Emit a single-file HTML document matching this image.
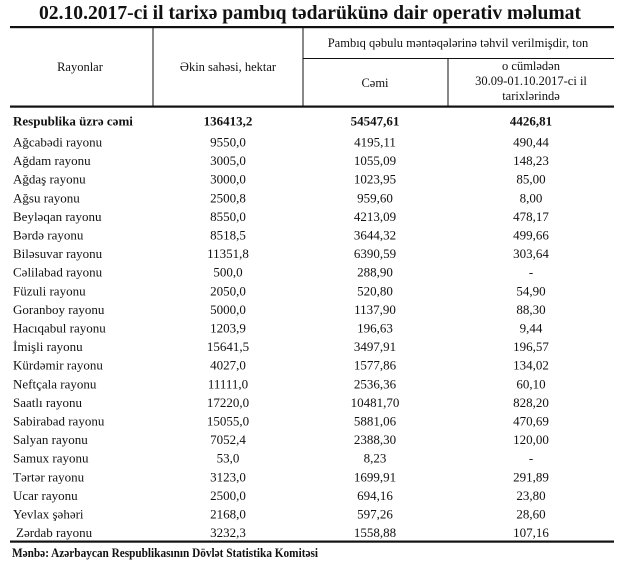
<!DOCTYPE html>
<html><head><meta charset="utf-8"><style>
html,body{margin:0;padding:0;background:#fff;}
svg{display:block;}
text{font-family:"Liberation Serif",serif;fill:#111;}
</style></head><body>
<svg width="620" height="564" viewBox="0 0 620 564" xmlns="http://www.w3.org/2000/svg">
<text x="310" y="19" font-size="19.5" font-weight="bold" text-anchor="middle" textLength="542" lengthAdjust="spacingAndGlyphs">02.10.2017-ci il tarixə pambıq tədarükünə dair operativ məlumat</text>
<rect x="10" y="26" width="604" height="2.2" fill="#111"/>
<rect x="10" y="105.5" width="604" height="2.2" fill="#111"/>
<rect x="10" y="540.5" width="604" height="2.2" fill="#111"/>
<line x1="153" y1="27" x2="153" y2="106" stroke="#111" stroke-width="1"/>
<line x1="303" y1="27" x2="303" y2="106" stroke="#111" stroke-width="1"/>
<line x1="448" y1="58.5" x2="448" y2="106" stroke="#111" stroke-width="1"/>
<line x1="303" y1="58.5" x2="614" y2="58.5" stroke="#111" stroke-width="1"/>
<g font-size="12.5" text-anchor="middle">
<text x="80" y="71">Rayonlar</text>
<text x="228" y="71">Əkin sahəsi, hektar</text>
<text x="458" y="47">Pambıq qəbulu məntəqələrinə təhvil verilmişdir, ton</text>
<text x="375" y="87">Cəmi</text>
<text x="531" y="70">o cümlədən</text>
<text x="531" y="85">30.09-01.10.2017-ci il</text>
<text x="531" y="100">tarixlərində</text>
</g>
<g font-size="13" font-weight="bold">
<text x="13" y="125.5">Respublika üzrə cəmi</text>
<text x="228" y="125.5" text-anchor="middle">136413,2</text>
<text x="375" y="125.5" text-anchor="middle">54547,61</text>
<text x="531" y="125.5" text-anchor="middle">4426,81</text>
</g>
<g font-size="13">
<text x="13" y="146.5">Ağcabədi rayonu</text><text x="228" y="146.5" text-anchor="middle">9550,0</text><text x="375" y="146.5" text-anchor="middle">4195,11</text><text x="531" y="146.5" text-anchor="middle">490,44</text>
<text x="13" y="165.1">Ağdam rayonu</text><text x="228" y="165.1" text-anchor="middle">3005,0</text><text x="375" y="165.1" text-anchor="middle">1055,09</text><text x="531" y="165.1" text-anchor="middle">148,23</text>
<text x="13" y="183.7">Ağdaş rayonu</text><text x="228" y="183.7" text-anchor="middle">3000,0</text><text x="375" y="183.7" text-anchor="middle">1023,95</text><text x="531" y="183.7" text-anchor="middle">85,00</text>
<text x="13" y="202.3">Ağsu rayonu</text><text x="228" y="202.3" text-anchor="middle">2500,8</text><text x="375" y="202.3" text-anchor="middle">959,60</text><text x="531" y="202.3" text-anchor="middle">8,00</text>
<text x="13" y="220.9">Beyləqan rayonu</text><text x="228" y="220.9" text-anchor="middle">8550,0</text><text x="375" y="220.9" text-anchor="middle">4213,09</text><text x="531" y="220.9" text-anchor="middle">478,17</text>
<text x="13" y="239.5">Bərdə rayonu</text><text x="228" y="239.5" text-anchor="middle">8518,5</text><text x="375" y="239.5" text-anchor="middle">3644,32</text><text x="531" y="239.5" text-anchor="middle">499,66</text>
<text x="13" y="258.1">Biləsuvar rayonu</text><text x="228" y="258.1" text-anchor="middle">11351,8</text><text x="375" y="258.1" text-anchor="middle">6390,59</text><text x="531" y="258.1" text-anchor="middle">303,64</text>
<text x="13" y="276.7">Cəlilabad rayonu</text><text x="228" y="276.7" text-anchor="middle">500,0</text><text x="375" y="276.7" text-anchor="middle">288,90</text><text x="531" y="276.7" text-anchor="middle">-</text>
<text x="13" y="295.3">Füzuli rayonu</text><text x="228" y="295.3" text-anchor="middle">2050,0</text><text x="375" y="295.3" text-anchor="middle">520,80</text><text x="531" y="295.3" text-anchor="middle">54,90</text>
<text x="13" y="313.9">Goranboy rayonu</text><text x="228" y="313.9" text-anchor="middle">5000,0</text><text x="375" y="313.9" text-anchor="middle">1137,90</text><text x="531" y="313.9" text-anchor="middle">88,30</text>
<text x="13" y="332.5">Hacıqabul rayonu</text><text x="228" y="332.5" text-anchor="middle">1203,9</text><text x="375" y="332.5" text-anchor="middle">196,63</text><text x="531" y="332.5" text-anchor="middle">9,44</text>
<text x="13" y="351.1">İmişli rayonu</text><text x="228" y="351.1" text-anchor="middle">15641,5</text><text x="375" y="351.1" text-anchor="middle">3497,91</text><text x="531" y="351.1" text-anchor="middle">196,57</text>
<text x="13" y="369.7">Kürdəmir rayonu</text><text x="228" y="369.7" text-anchor="middle">4027,0</text><text x="375" y="369.7" text-anchor="middle">1577,86</text><text x="531" y="369.7" text-anchor="middle">134,02</text>
<text x="13" y="388.3">Neftçala rayonu</text><text x="228" y="388.3" text-anchor="middle">11111,0</text><text x="375" y="388.3" text-anchor="middle">2536,36</text><text x="531" y="388.3" text-anchor="middle">60,10</text>
<text x="13" y="406.9">Saatlı rayonu</text><text x="228" y="406.9" text-anchor="middle">17220,0</text><text x="375" y="406.9" text-anchor="middle">10481,70</text><text x="531" y="406.9" text-anchor="middle">828,20</text>
<text x="13" y="425.5">Sabirabad rayonu</text><text x="228" y="425.5" text-anchor="middle">15055,0</text><text x="375" y="425.5" text-anchor="middle">5881,06</text><text x="531" y="425.5" text-anchor="middle">470,69</text>
<text x="13" y="444.1">Salyan rayonu</text><text x="228" y="444.1" text-anchor="middle">7052,4</text><text x="375" y="444.1" text-anchor="middle">2388,30</text><text x="531" y="444.1" text-anchor="middle">120,00</text>
<text x="13" y="462.7">Samux rayonu</text><text x="228" y="462.7" text-anchor="middle">53,0</text><text x="375" y="462.7" text-anchor="middle">8,23</text><text x="531" y="462.7" text-anchor="middle">-</text>
<text x="13" y="481.3">Tərtər rayonu</text><text x="228" y="481.3" text-anchor="middle">3123,0</text><text x="375" y="481.3" text-anchor="middle">1699,91</text><text x="531" y="481.3" text-anchor="middle">291,89</text>
<text x="13" y="499.9">Ucar rayonu</text><text x="228" y="499.9" text-anchor="middle">2500,0</text><text x="375" y="499.9" text-anchor="middle">694,16</text><text x="531" y="499.9" text-anchor="middle">23,80</text>
<text x="13" y="518.5">Yevlax şəhəri</text><text x="228" y="518.5" text-anchor="middle">2168,0</text><text x="375" y="518.5" text-anchor="middle">597,26</text><text x="531" y="518.5" text-anchor="middle">28,60</text>
<text x="16" y="537.1">Zərdab rayonu</text><text x="228" y="537.1" text-anchor="middle">3232,3</text><text x="375" y="537.1" text-anchor="middle">1558,88</text><text x="531" y="537.1" text-anchor="middle">107,16</text>
</g>
<text x="12" y="557" font-size="13" font-weight="bold" textLength="306" lengthAdjust="spacingAndGlyphs">Mənbə: Azərbaycan Respublikasının Dövlət Statistika Komitəsi</text>
</svg>
</body></html>
